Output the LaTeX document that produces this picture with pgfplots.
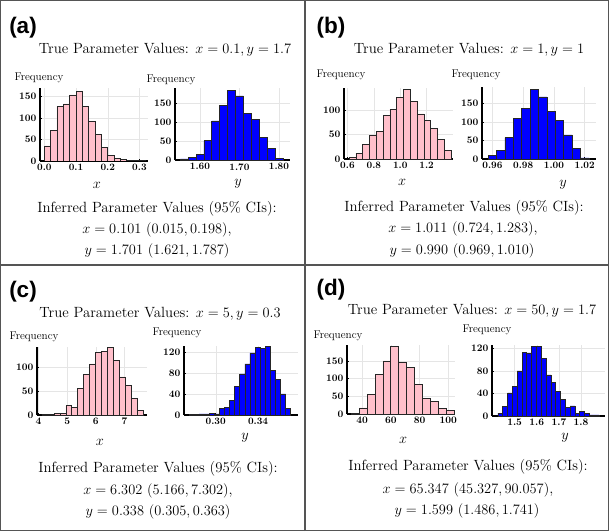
\documentclass[border=0pt]{standalone}
\usepackage{pgfplots}
\pgfplotsset{compat=1.18}
\usepackage{fontspec}
\newfontfamily\panelfont{Liberation Sans}
\definecolor{histpink}{RGB}{255,192,203}
\definecolor{histblue}{RGB}{0,0,255}
\definecolor{framegray}{RGB}{85,85,85}

\newcommand\ttl{\fontsize{14.8}{17}\selectfont}
\newcommand\frq{\fontsize{11.2}{13}\selectfont}
\newcommand\lbl{\fontsize{22.5}{24}\selectfont\panelfont\bfseries}

\pgfplotsset{
  hist/.style={
    scale only axis, anchor=south west,
    axis lines*=left, ymin=0,
    grid=major, major grid style={black!10, line width=0.4pt},
    axis line style={line width=1.1pt},
    tick style={black, line width=0.5pt}, major tick length=2pt,
    tick label style={font=\fontsize{9.8}{11}\selectfont\bfseries\boldmath},
  },
  pinkbars/.style={ybar interval, fill=histpink, draw=black!85, line width=0.7pt},
  bluebars/.style={ybar interval, fill=histblue, draw=black!85, line width=0.7pt},
}

\begin{document}
\begin{tikzpicture}[x=1pt,y=1pt]
\useasboundingbox (0,0) rectangle (609,531);

% panel frames
\draw[framegray, line width=1.2pt] (0.6,0.6) rectangle (608.4,530.4);
\draw[framegray, line width=1.2pt] (305,0) -- (305,531);
\draw[framegray, line width=1.2pt] (0,266) -- (609,266);

% ---------------- (a)
\node at (23,503) {\lbl (a)};
\node at (165,481) {\ttl True Parameter Values: $x=0.1, y=1.7$};
\node at (39,453) {\frq Frequency};
\node at (171,451) {\frq Frequency};
\node at (97,346) {\ttl $x$};
\node at (238,347) {\ttl $y$};
\node at (157,322) {\ttl Inferred Parameter Values (95\% CIs):};
\node at (157,301) {\ttl $x=0.101\ (0.015, 0.198)$,};
\node at (157,280) {\ttl $y=1.701\ (1.621, 1.787)$};

\begin{axis}[hist, at={(40pt,370pt)}, width=108pt, height=73pt,
  xmin=-0.0136, xmax=0.327, ymax=169,
  xtick={0,0.1,0.2,0.3}, xticklabels={0.0,0.1,0.2,0.3},
  ytick={0,50,100,150}]
\addplot[pinkbars] coordinates {
(0.00,35) (0.02,70) (0.04,126) (0.06,132) (0.08,153) (0.10,162) (0.12,127)
(0.14,91) (0.16,62) (0.18,32) (0.20,13) (0.22,5) (0.24,3) (0.26,2)
(0.28,1) (0.30,1) (0.32,1)};
\end{axis}

\begin{axis}[hist, at={(175pt,371pt)}, width=115pt, height=72pt,
  xmin=1.5367, xmax=1.828, ymax=190,
  xtick={1.6,1.7,1.8}, xticklabels={1.60,1.70,1.80},
  ytick={0,50,100,150}]
\addplot[bluebars] coordinates {
(1.55,3) (1.57,6) (1.59,15) (1.61,51) (1.63,103) (1.65,144) (1.67,184)
(1.69,169) (1.71,122) (1.73,106) (1.75,60) (1.77,31) (1.79,5) (1.81,5)};
\end{axis}

% ---------------- (b)
\node at (331,503) {\lbl (b)};
\node at (469,481) {\ttl True Parameter Values: $x=1, y=1$};
\node at (341,456) {\frq Frequency};
\node at (476,456) {\frq Frequency};
\node at (402,349) {\ttl $x$};
\node at (563,346) {\ttl $y$};
\node at (464,323) {\ttl Inferred Parameter Values (95\% CIs):};
\node at (463,302) {\ttl $x=1.011\ (0.724, 1.283)$,};
\node at (462,280) {\ttl $y=0.990\ (0.969, 1.010)$};

\begin{axis}[hist, at={(344pt,372pt)}, width=109pt, height=71pt,
  xmin=0.574, xmax=1.40, ymax=145,
  xtick={0.6,0.8,1.0,1.2}, xticklabels={0.6,0.8,1.0,1.2},
  ytick={0,50,100}]
\addplot[pinkbars] coordinates {
(0.613,3) (0.6645,12) (0.716,30) (0.7675,48) (0.819,57) (0.8705,89)
(0.922,102) (0.9735,126) (1.025,142) (1.0765,118) (1.128,92) (1.1795,78)
(1.231,63) (1.2825,40) (1.334,17) (1.3855,17)};
\end{axis}

\begin{axis}[hist, at={(482pt,372pt)}, width=114pt, height=72pt,
  xmin=0.9532, xmax=1.0274, ymax=195,
  xtick={0.96,0.98,1.00,1.02}, xticklabels={0.96,0.98,1.00,1.02},
  ytick={0,50,100,150}]
\addplot[bluebars] coordinates {
(0.9572,9) (0.96267,24) (0.96814,58) (0.97361,110) (0.97908,138)
(0.98455,188) (0.99002,168) (0.99549,129) (1.00096,104) (1.00643,65)
(1.0119,28) (1.01737,3) (1.02284,3)};
\end{axis}

% ---------------- (c)
\node at (23,239) {\lbl (c)};
\node at (160,217) {\ttl True Parameter Values: $x=5, y=0.3$};
\node at (34,194) {\frq Frequency};
\node at (177,198) {\frq Frequency};
\node at (100,89) {\ttl $x$};
\node at (245,93) {\ttl $y$};
\node at (158,62) {\ttl Inferred Parameter Values (95\% CIs):};
\node at (158,40) {\ttl $x=6.302\ (5.166, 7.302)$,};
\node at (158,19) {\ttl $y=0.338\ (0.305, 0.363)$};

\begin{axis}[hist, at={(37pt,116pt)}, width=110pt, height=68pt,
  xmin=3.944, xmax=7.79, ymax=141,
  xtick={4,5,6,7},
  ytick={0,50,100}]
\addplot[pinkbars] coordinates {
(4.117,1) (4.326,2) (4.535,3) (4.744,4) (4.953,19) (5.162,15) (5.371,55)
(5.580,84) (5.789,106) (5.998,130) (6.207,131) (6.416,140) (6.625,113)
(6.834,79) (7.043,61) (7.252,34) (7.461,10) (7.670,10)};
\end{axis}

\begin{axis}[hist, at={(184pt,116pt)}, width=114pt, height=69pt,
  xmin=0.270, xmax=0.3778, ymax=131,
  xtick={0.30,0.34}, xticklabels={0.30,0.34},
  ytick={0,40,80,120}]
\addplot[bluebars] coordinates {
(0.2748,1) (0.2796,1) (0.2844,2) (0.2892,2) (0.2940,3) (0.2988,2)
(0.3036,12) (0.3084,15) (0.3132,28) (0.3180,55) (0.3228,78) (0.3276,97)
(0.3324,118) (0.3372,128) (0.3420,127) (0.3468,130) (0.3516,84)
(0.3564,68) (0.3612,40) (0.3660,13) (0.3708,13)};
\end{axis}

% ---------------- (d)
\node at (331,241) {\lbl (d)};
\node at (472,220) {\ttl True Parameter Values: $x=50, y=1.7$};
\node at (338,195) {\frq Frequency};
\node at (487,201) {\frq Frequency};
\node at (403,91) {\ttl $x$};
\node at (565,93) {\ttl $y$};
\node at (468,64) {\ttl Inferred Parameter Values (95\% CIs):};
\node at (468,41) {\ttl $x=65.347\ (45.327, 90.057)$,};
\node at (467,20) {\ttl $y=1.599\ (1.486, 1.741)$};

\begin{axis}[hist, at={(347pt,117pt)}, width=108pt, height=69pt,
  xmin=29.5, xmax=104.7, ymax=195,
  xtick={40,60,80,100},
  ytick={0,50,100,150}]
\addplot[pinkbars] coordinates {
(32.56,2) (38.05,17) (43.54,56) (49.03,111) (54.52,150) (60.01,190)
(65.50,145) (70.99,131) (76.48,84) (81.97,43) (87.46,36) (92.95,15)
(98.44,9) (103.93,9)};
\end{axis}

\begin{axis}[hist, at={(492pt,115pt)}, width=113pt, height=71pt,
  xmin=1.398, xmax=1.908, ymax=126,
  xtick={1.5,1.6,1.7,1.8},
  ytick={0,40,80,120}]
\addplot[bluebars] coordinates {
(1.425,5) (1.4467,17) (1.4684,41) (1.4901,52) (1.5118,80) (1.5335,113)
(1.5552,112) (1.5769,123) (1.5986,123) (1.6203,102) (1.642,73)
(1.6637,60) (1.6854,44) (1.7071,29) (1.7288,15) (1.7505,18) (1.7722,4)
(1.7939,8) (1.8156,4) (1.8373,2) (1.859,2) (1.8807,2)};
\end{axis}
\end{tikzpicture}
\end{document}
